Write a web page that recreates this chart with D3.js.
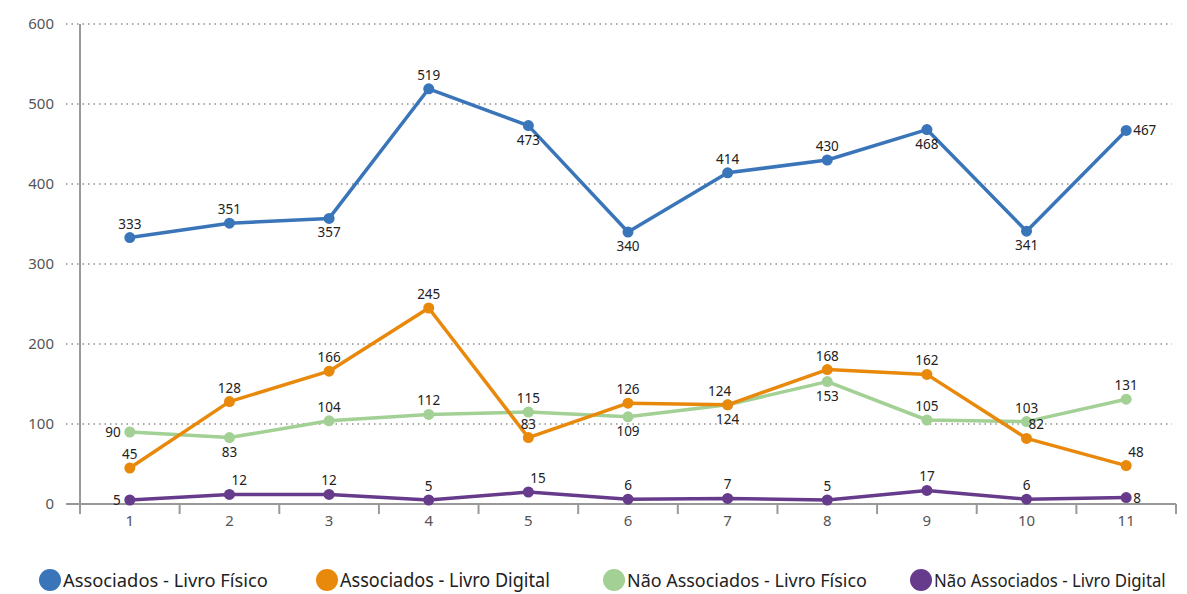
<!DOCTYPE html>
<html>
<head>
<meta charset="utf-8">
<script src="https://cdn.jsdelivr.net/npm/d3@7"></script>
<style>
  body { margin: 0; background: #fff; }
  text { font-family: "Noto Sans", "Open Sans", sans-serif; }
</style>
</head>
<body>
<div id="chart"></div>
<script>
// data
var categories = ["1", "2", "3", "4", "5", "6", "7", "8", "9", "10", "11"];
var yTicks = [0, 100, 200, 300, 400, 500, 600];
var seriesNames = ["Associados - Livro Físico", "Associados - Livro Digital",
                   "Não Associados - Livro Físico", "Não Associados - Livro Digital"];
var assocFisico = [333, 351, 357, 519, 473, 340, 414, 430, 468, 341, 467];
var assocDigital = [45, 128, 166, 245, 83, 126, 124, 168, 162, 82, 48];
var naoFisico = [90, 83, 104, 112, 115, 109, 124, 153, 105, 103, 131];
var naoDigital = [5, 12, 12, 5, 15, 6, 7, 5, 17, 6, 8];

(function() {
  var width = 1187, height = 594;
  var margin = {top: 24, left: 80, right: 12};
  var colors = ["#3a75b9", "#e8890c", "#a3d095", "#673b8c"];

  // where each label sits relative to its point: a=above, b=below, l=left, r=right, ar=above right
  var labelPos = [
    ["a","a","b","a","b","b","a","a","b","b","r"],
    ["a","a","a","a","a","a","al","a","a","ar","ar"],
    ["l","b","a","a","a","b","b","b","a","a","a"],
    ["l","ar","a","a","ar","a","a","a","a","a","r"]
  ];

  var svg = d3.select("#chart").append("svg")
    .attr("width", width)
    .attr("height", height);

  var x = d3.scaleBand()
    .domain(categories)
    .range([margin.left, width - margin.right + 1]);

  var y = d3.scaleLinear()
    .domain([0, 600])
    .range([504, margin.top]);

  // dotted gridlines
  svg.append("g").selectAll("line")
    .data(yTicks.slice(1))
    .enter().append("line")
    .attr("x1", 66).attr("x2", 1172)
    .attr("y1", d => y(d)).attr("y2", d => y(d))
    .attr("stroke", "#aaa")
    .attr("stroke-width", 2)
    .attr("stroke-dasharray", "1.5,4");

  // y tick labels
  svg.append("g").selectAll("text")
    .data(yTicks)
    .enter().append("text")
    .attr("x", 54)
    .attr("y", d => y(d))
    .attr("dy", "0.35em")
    .attr("text-anchor", "end")
    .attr("fill", "#555")
    .style("font-size", "15px")
    .text(d => d);

  // axes
  svg.append("line")
    .attr("x1", margin.left).attr("x2", margin.left)
    .attr("y1", margin.top).attr("y2", 514)
    .attr("stroke", "#999").attr("stroke-width", 2);
  svg.append("line")
    .attr("x1", 66).attr("x2", x.range()[1])
    .attr("y1", y(0)).attr("y2", y(0))
    .attr("stroke", "#999").attr("stroke-width", 2);

  var bounds = categories.map(c => x(c)).concat([x.range()[1]]);
  svg.append("g").selectAll("line")
    .data(bounds)
    .enter().append("line")
    .attr("x1", d => d).attr("x2", d => d)
    .attr("y1", y(0)).attr("y2", 514)
    .attr("stroke", "#999").attr("stroke-width", 2);

  svg.append("g").selectAll("text")
    .data(categories)
    .enter().append("text")
    .attr("x", d => x(d) + x.bandwidth() / 2)
    .attr("y", 526)
    .attr("text-anchor", "middle")
    .attr("fill", "#555")
    .style("font-size", "15px")
    .text(d => d);

  var allSeries = [assocFisico, assocDigital, naoFisico, naoDigital];
  var line = d3.line()
    .x((d, i) => x(categories[i]) + x.bandwidth() / 2)
    .y(d => y(d));

  // draw order matches reference: green below orange
  [0, 2, 1, 3].forEach(function(s) {
    var vals = allSeries[s];
    var g = svg.append("g");
    g.append("path")
      .datum(vals)
      .attr("d", line)
      .attr("fill", "none")
      .attr("stroke", colors[s])
      .attr("stroke-width", 3.5)
      .attr("stroke-linejoin", "round");
    g.selectAll("circle")
      .data(vals)
      .enter().append("circle")
      .attr("cx", (d, i) => x(categories[i]) + x.bandwidth() / 2)
      .attr("cy", d => y(d))
      .attr("r", 5.5)
      .attr("fill", colors[s]);
  });

  // point labels on top
  allSeries.forEach(function(vals, s) {
    svg.append("g").selectAll("text")
      .data(vals)
      .enter().append("text")
      .attr("x", function(d, i) {
        var cx = x(categories[i]) + x.bandwidth() / 2, p = labelPos[s][i];
        if (p == "l") return cx - 9;
        if (p == "r") return cx + 7;
        if (p == "ar") return cx + 2;
        if (p == "al") return cx - 8;
        return cx;
      })
      .attr("y", function(d, i) {
        var cy = y(d), p = labelPos[s][i];
        if (p == "b") return cy + 19;
        if (p == "l" || p == "r") return cy + 5;
        return cy - 9;
      })
      .attr("text-anchor", function(d, i) {
        var p = labelPos[s][i];
        if (p == "l") return "end";
        if (p == "r" || p == "ar") return "start";
        return "middle";
      })
      .attr("fill", "#222")
      .style("font-size", "13.5px")
      .text(d => d);
  });

  // legend (reference uses a condensed face, so squeeze each text horizontally to its width)
  var legendX = [50, 327, 614, 921];
  var legendW = [205, 210, 240, 232];
  var legend = svg.append("g").selectAll("g")
    .data(seriesNames)
    .enter().append("g")
    .attr("transform", (d, i) => "translate(" + legendX[i] + ",580)");
  legend.append("circle")
    .attr("r", 11)
    .attr("fill", (d, i) => colors[i]);
  legend.append("text")
    .attr("fill", "#222")
    .style("font-size", "19px")
    .text(d => d)
    .attr("transform", function(d, i) {
      var sx = legendW[i] / this.getComputedTextLength();
      return "translate(13,7) scale(" + sx + ",1)";
    });
})();
</script>
</body>
</html>
